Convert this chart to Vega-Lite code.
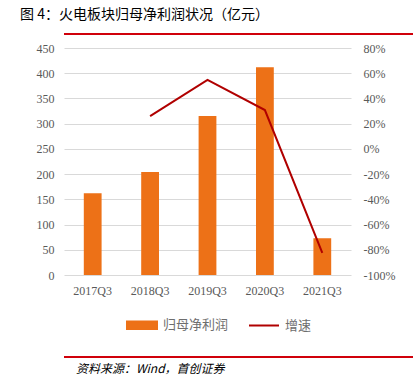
{
  "$schema": "https://vega.github.io/schema/vega-lite/v6.json",
  "padding": {"left": 10, "top": 8, "right": 0, "bottom": 0},
  "background": "white",
  "title": {"text": "图 4：火电板块归母净利润状况（亿元）", "anchor": "start", "font": "Noto Sans CJK SC", "fontSize": 14, "fontWeight": "normal", "color": "#000000", "offset": 6, "dx": 10},
  "data": {"values": [
    {"period": "2017Q3", "profit": 162, "growth": null},
    {"period": "2018Q3", "profit": 204, "growth": 0.26},
    {"period": "2019Q3", "profit": 315, "growth": 0.548},
    {"period": "2020Q3", "profit": 412, "growth": 0.308},
    {"period": "2021Q3", "profit": 73, "growth": -0.825}
  ]},
  "spacing": 3,
  "resolve": {"scale": {"color": "independent"}, "legend": {"color": "independent"}},
  "vconcat": [
    {
      "width": 403, "height": 2,
      "view": {"stroke": null, "fill": "#D0000A"},
      "mark": {"type": "text"},
      "encoding": {"text": {"value": ""}}
    },
    {
      "width": 287, "height": 227,
      "view": {"stroke": null},
      "encoding": {
        "x": {"field": "period", "type": "nominal", "sort": null, "title": null,
          "scale": {"paddingInner": 0.69, "paddingOuter": 0.345},
          "axis": {"labelAngle": 0, "ticks": false, "domain": false, "labelPadding": 10, "labelFont": "Liberation Serif", "labelFontSize": 12, "labelColor": "#595959"}}
      },
      "layer": [
        {
          "mark": {"type": "bar", "color": "#ED7117"},
          "encoding": {
            "y": {"field": "profit", "type": "quantitative", "title": "归",
              "scale": {"domain": [0, 450]},
              "axis": {"values": [0, 50, 100, 150, 200, 250, 300, 350, 400, 450], "titleOpacity": 0, "titleFontSize": 10, "titlePadding": 16, "ticks": false, "domain": false, "labelPadding": 10, "labelFont": "Liberation Serif", "labelFontSize": 12, "labelColor": "#595959", "gridColor": "#D9D9D9", "gridWidth": 1}},
            "color": {"datum": "归母净利润", "type": "nominal",
              "scale": {"domain": ["归母净利润", "增速"], "range": ["#ED7117", "#B00000"]},
              "legend": {"title": null, "orient": "none", "legendX": 47, "legendY": 246, "padding": 15, "direction": "horizontal", "labelFont": "Noto Sans CJK SC", "labelFontSize": 13, "labelColor": "#6E6E6E", "columnPadding": 16, "labelOffset": 5, "symbolSize": 900,
                "symbolType": "stroke",
                "encode": {"symbols": {"update": {
                  "shape": {"signal": "datum.value === '增速' ? 'stroke' : 'M-1,-0.25H1V0.25H-1Z'"},
                  "fill": {"signal": "datum.value === '增速' ? 'transparent' : '#ED7117'"},
                  "stroke": {"signal": "datum.value === '增速' ? '#B00000' : 'transparent'"},
                  "strokeWidth": {"value": 2},
                  "opacity": {"value": 1}
                }}}}}
          }
        },
        {
          "mark": {"type": "line", "color": "#B00000", "strokeWidth": 2},
          "encoding": {
            "y": {"field": "growth", "type": "quantitative", "title": null,
              "scale": {"domain": [-1, 0.8]},
              "axis": {"orient": "right", "values": [-1, -0.8, -0.6, -0.4, -0.2, 0, 0.2, 0.4, 0.6, 0.8], "labelExpr": "round(datum.value*100) + '%'", "grid": false, "ticks": false, "domain": false, "labelPadding": 12, "labelFont": "Liberation Serif", "labelFontSize": 12, "labelColor": "#595959"}},
            "color": {"datum": "增速", "type": "nominal"}
          }
        }
      ],
      "resolve": {"scale": {"y": "independent"}}
    },
    {
      "width": 403, "height": 2,
      "view": {"stroke": null, "fill": "#D0000A"},
      "mark": {"type": "text"},
      "encoding": {"text": {"value": ""}},
      "title": {"text": "资料来源：Wind，首创证券", "orient": "bottom", "anchor": "start", "font": "Noto Sans CJK SC", "fontSize": 12, "fontStyle": "italic", "fontWeight": "normal", "color": "#000000", "offset": 2, "dx": 12}
    }
  ]
}
